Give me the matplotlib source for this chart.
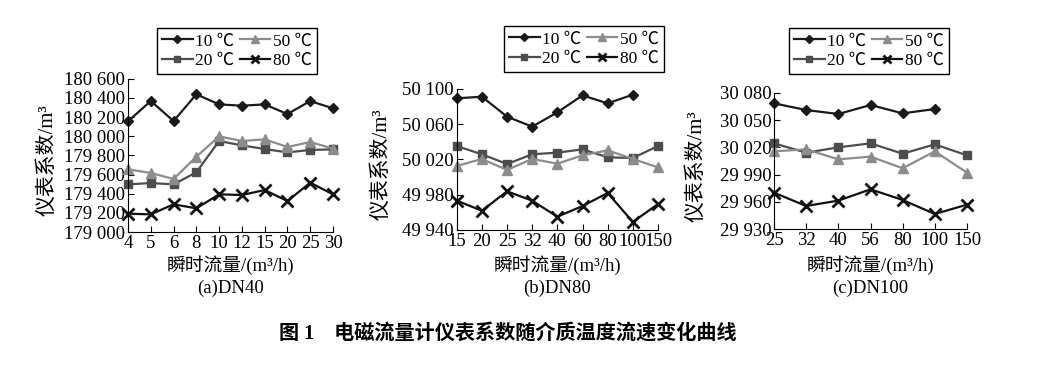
import matplotlib
matplotlib.use("Agg")
import matplotlib.pyplot as plt
from matplotlib.ticker import FuncFormatter

plt.rcParams['font.family'] = ['Liberation Serif', 'Noto Sans CJK SC']
plt.rcParams['axes.unicode_minus'] = False

# 数据
temps = ['10 ℃', '20 ℃', '50 ℃', '80 ℃']

flow_a = ['4', '5', '6', '8', '10', '12', '15', '20', '25', '30']
a_10 = [180155, 180367, 180158, 180437, 180332, 180318, 180332, 180231, 180367, 180290]
a_20 = [179497, 179511, 179497, 179623, 179950, 179904, 179866, 179831, 179856, 179863]
a_50 = [179654, 179616, 179553, 179786, 179998, 179950, 179967, 179887, 179939, 179870]
a_80 = [179191, 179184, 179289, 179247, 179393, 179386, 179438, 179323, 179515, 179393]
yticks_a = [179000, 179200, 179400, 179600, 179800, 180000, 180200, 180400, 180600]

flow_b = ['15', '20', '25', '32', '40', '60', '80', '100', '150']
b_10 = [50089.4, 50091.3, 50068.6, 50057.3, 50073.5, 50092.8, 50083.7, 50093.6]
b_20 = [50035.3, 50025.9, 50014.9, 50025.9, 50027.8, 50031.5, 50022.5, 50021.7, 50035.3]
b_50 = [50012.6, 50020.6, 50008.1, 50020.6, 50015.3, 50024.7, 50030.4, 50020.6, 50011.1]
b_80 = [49973.3, 49961.9, 49983.9, 49973.3, 49955.1, 49967.2, 49982.0, 49949.1, 49969.5]
yticks_b = [49940, 49980, 50020, 50060, 50100]

flow_c = ['25', '32', '40', '56', '80', '100', '150']
c_10 = [30068.3, 30061.0, 30056.6, 30066.5, 30057.3, 30062.1]
c_20 = [30024.4, 30014.1, 30020.0, 30024.4, 30013.0, 30023.3, 30011.2]
c_50 = [30015.6, 30017.8, 30006.8, 30009.8, 29997.0, 30015.6, 29992.2]
c_80 = [29970.2, 29955.6, 29961.5, 29973.9, 29962.2, 29946.8, 29957.1]
yticks_c = [29930, 29960, 29990, 30020, 30050, 30080]

styles = [
    dict(color='#1a1a1a', marker='D', markersize=5),
    dict(color='#4d4d4d', marker='s', markersize=6),
    dict(color='#8c8c8c', marker='^', markersize=7),
    dict(color='#111111', marker='x', markersize=8, markeredgewidth=2),
]

W, H = 1057, 376
fig = plt.figure(figsize=(W / 100, H / 100), dpi=100)
FS = 13.5


def fmt(v, pos):
    return f"{int(round(v)):,}".replace(",", " ")


def panel(box, flows, series, yticks, legpos, ylab_x, sub):
    l, r, t, b = box
    ax = fig.add_axes([l / W, 1 - b / H, (r - l) / W, (b - t) / H])
    for s, name, st in zip(series, temps, styles):
        x = list(range(len(s)))
        ax.plot(x, s, lw=1.6, label=name, clip_on=False, **st)
    ax.set_xlim(0, len(flows) - 1)
    ax.set_xticks(range(len(flows)))
    ax.set_xticklabels(flows)
    ax.set_ylim(yticks[0], yticks[-1])
    ax.set_yticks(yticks)
    ax.yaxis.set_major_formatter(FuncFormatter(fmt))
    ax.spines['top'].set_visible(False)
    ax.spines['right'].set_visible(False)
    ax.tick_params(direction='in', labelsize=FS, pad=2, length=4)
    lx0, ly0 = legpos
    ax.legend(loc='upper left', bbox_to_anchor=(lx0 / W, 1 - ly0 / H),
              bbox_transform=fig.transFigure, ncol=2, fontsize=12.5,
              handlelength=1.75, handletextpad=0.15, columnspacing=0.3, labelspacing=0.2,
              borderpad=0.3, borderaxespad=0, fancybox=False, framealpha=1, edgecolor='black',
              markerscale=0.8)
    cx = (l + r) / 2 / W
    fig.text(ylab_x / W, 1 - ((t + b) / 2 + 5) / H, '仪表系数/m³', rotation=90, ha='center', va='center',
             fontsize=15)
    fig.text(cx, 1 - 265 / H, '瞬时流量/(m³/h)', ha='center', va='center', fontsize=FS)
    fig.text(cx, 1 - 288 / H, sub, ha='center', va='center', fontsize=FS)
    return ax


panel((128, 333, 78.7, 232), flow_a, [a_10, a_20, a_50, a_80], yticks_a, (157, 28), 48, '(a)DN40')
panel((456.7, 658, 89, 230), flow_b, [b_10, b_20, b_50, b_80], yticks_b, (504, 26), 382, '(b)DN80')
panel((774, 967, 92.7, 229.3), flow_c, [c_10, c_20, c_50, c_80], yticks_c, (789, 28), 697, '(c)DN100')

fig.text(508 / W, 1 - 334 / H, '图 1    电磁流量计仪表系数随介质温度流速变化曲线', ha='center', va='center',
         fontsize=14.5, fontweight='semibold')

fig.savefig('out.png', dpi=100)
